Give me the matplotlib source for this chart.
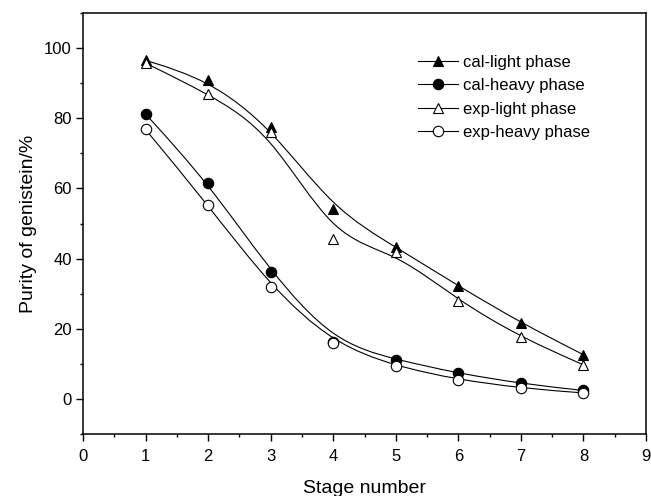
import matplotlib

matplotlib.use("Agg")
import matplotlib.pyplot as plt
import numpy as np
from matplotlib.lines import Line2D
from matplotlib.patches import PathPatch
from matplotlib.path import Path
from matplotlib.ticker import MultipleLocator

stages = [1, 2, 3, 4, 5, 6, 7, 8]
cal_light = [96.5, 91.0, 77.5, 54.0, 43.3, 32.2, 21.7, 12.6]
cal_heavy = [81.2, 61.6, 36.2, 16.3, 11.2, 7.3, 4.4, 2.4]
exp_light = [95.7, 87.0, 76.0, 45.7, 41.8, 28.0, 17.6, 9.7]
exp_heavy = [76.8, 55.2, 32.0, 15.8, 9.3, 5.5, 3.1, 1.7]

labels = ["cal-light phase", "cal-heavy phase", "exp-light phase", "exp-heavy phase"]

plt.rcParams.update({
    "font.family": ["Liberation Sans", "DejaVu Sans"],
    "font.size": 12,
})


def bspline_path(xs, ys):
    # clamped uniform cubic B-spline, data points used as control points
    p = np.column_stack([xs, ys]).astype(float)
    p = np.vstack([p[:1], p[:1], p, p[-1:], p[-1:]])
    verts, codes = [], []
    for i in range(len(p) - 3):
        p0, p1, p2, p3 = p[i:i + 4]
        if i == 0:
            verts.append((p0 + 4 * p1 + p2) / 6)
            codes.append(Path.MOVETO)
        verts += [(2 * p1 + p2) / 3, (p1 + 2 * p2) / 3, (p1 + 4 * p2 + p3) / 6]
        codes += [Path.CURVE4] * 3
    return Path(verts, codes)


fig = plt.figure(figsize=(6.51, 4.96), dpi=100)
ax = fig.add_axes([83 / 651, 62 / 496, 563 / 651, 421 / 496])

series = [
    (cal_light, "^", "black"),
    (cal_heavy, "o", "black"),
    (exp_light, "^", "white"),
    (exp_heavy, "o", "white"),
]

handles = []
for (vals, mk, fc), lab in zip(series, labels):
    ax.add_patch(PathPatch(bspline_path(stages, vals), facecolor="none",
                           edgecolor="black", lw=0.8, zorder=2))
    ax.plot(stages, vals, ls="none", marker=mk, ms=7.5, mfc=fc, mec="black",
            mew=0.8, zorder=3)
    handles.append(Line2D([], [], color="black", lw=0.8, marker=mk, ms=7.5,
                          mfc=fc, mec="black", mew=0.8, label=lab))

ax.set_xlim(0, 9)
ax.set_ylim(-10, 110)
ax.xaxis.set_major_locator(MultipleLocator(1))
ax.xaxis.set_minor_locator(MultipleLocator(0.5))
ax.yaxis.set_minor_locator(MultipleLocator(10))
ax.set_yticks(range(0, 101, 20))
ax.tick_params(which="both", direction="out", top=False, right=False, width=1.0)
ax.tick_params(which="major", length=5, pad=3, labelsize=12)
ax.tick_params(axis="x", which="major", pad=5.5)
ax.tick_params(which="minor", length=2.5)
for sp in ax.spines.values():
    sp.set_linewidth(1.1)

ax.set_xlabel("Stage number", fontsize=14, labelpad=11.5)
ax.set_ylabel("Purity of genistein/%", fontsize=14, labelpad=5)

ax.legend(handles=handles, loc="upper left", bbox_to_anchor=(418 / 651, 1 - 55 / 496),
          bbox_transform=fig.transFigure, frameon=False, fontsize=12,
          handlelength=2.4, handletextpad=0.3, labelspacing=0.5,
          borderaxespad=0, borderpad=0)

fig.savefig("out.png", dpi=100)
